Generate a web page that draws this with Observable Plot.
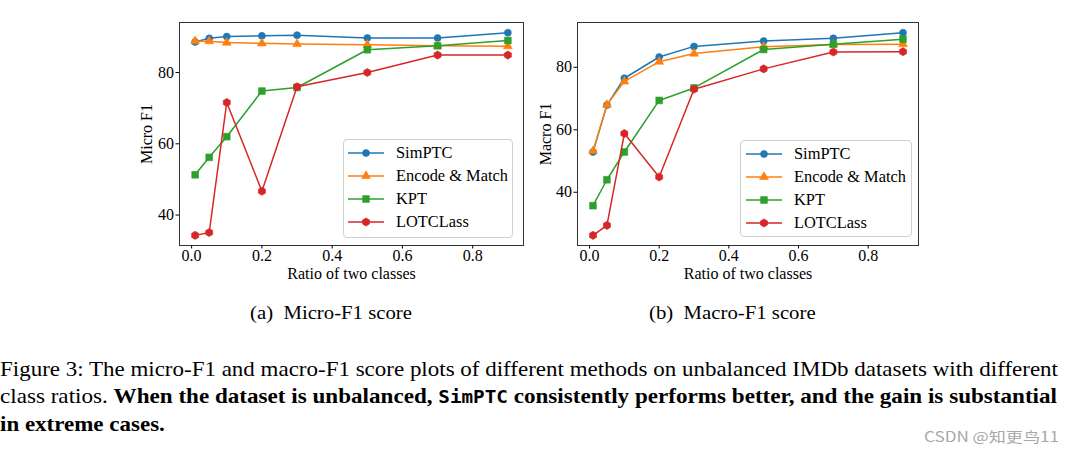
<!DOCTYPE html>
<html><head><meta charset="utf-8">
<script src="https://cdn.jsdelivr.net/npm/d3@7"></script>
<script src="https://cdn.jsdelivr.net/npm/@observablehq/plot@0.6"></script>
<style>
html,body{margin:0;padding:0;background:#fff;}
#root{position:relative;width:1075px;height:452px;overflow:hidden;font-family:"Liberation Serif","Times New Roman",serif;color:#000;}
.chart{position:absolute;top:0;}
.legend{position:absolute;border:1px solid #cfcfcf;border-radius:4px;background:rgba(255,255,255,0.8);box-sizing:border-box;font-size:16.4px;}
.entry{position:absolute;left:0;height:20px;line-height:20px;white-space:nowrap;}
.entry svg{position:absolute;top:0;}
.entry span{position:absolute;top:0;}
.sub{position:absolute;font-size:18px;line-height:18px;white-space:pre;transform-origin:0 0;}
.cap{position:absolute;left:0;font-size:21px;line-height:21px;white-space:pre;transform-origin:0 0;}
.tt{font-family:"DejaVu Sans Mono",monospace;font-size:17.5px;}
.wm{position:absolute;font-family:"Noto Sans CJK SC",sans-serif;font-size:14px;line-height:14px;color:#a8a8a8;white-space:pre;transform-origin:0 0;}
</style></head><body><div id="root"></div>
<script>
// ---- data ----
const ratios = [0.01, 0.05, 0.1, 0.2, 0.3, 0.5, 0.7, 0.9];
const methods = ["SimPTC", "Encode & Match", "KPT", "LOTCLass"];
const microSimPTC = [88.6, 89.6, 90.1, 90.3, 90.5, 89.7, 89.7, 91.2];
const microEncode = [88.8, 88.8, 88.4, 88.2, 88.0, 87.8, 87.5, 87.4];
const microKPT    = [51.3, 56.2, 62.0, 74.8, 75.8, 86.4, 87.5, 89.0];
const microLOT    = [34.3, 35.1, 71.6, 46.7, 76.0, 80.0, 84.9, 84.9];
const macroSimPTC = [52.9, 67.9, 76.5, 83.3, 86.7, 88.4, 89.3, 91.1];
const macroEncode = [53.2, 68.0, 75.5, 81.8, 84.4, 86.6, 87.3, 87.4];
const macroKPT    = [35.7, 44.0, 52.9, 69.4, 73.4, 85.7, 87.4, 89.0];
const macroLOT    = [26.2, 29.4, 58.8, 44.9, 73.0, 79.5, 84.9, 85.0];
const xTicks = [0, 0.2, 0.4, 0.6, 0.8];
const yTicks = [40, 60, 80];
const xLabel = "Ratio of two classes";
const subA = "(a)  Micro-F1 score";
const subB = "(b)  Macro-F1 score";

// ---- style ----
const colors = ["#1f77b4", "#ff7f0e", "#2ca02c", "#d62728"];
const hexagon = {draw(ctx, size) {
  const R = Math.sqrt(size / (1.5 * Math.sqrt(3)));
  for (let i = 0; i < 6; i++) {
    const a = -Math.PI / 2 + i * Math.PI / 3;
    const x = R * Math.cos(a), y = R * Math.sin(a);
    i ? ctx.lineTo(x, y) : ctx.moveTo(x, y);
  }
  ctx.closePath();
}};
const symbols = [d3.symbolCircle, d3.symbolTriangle, d3.symbolSquare, hexagon];
const radii = [3.5, 3.3, 3.8, 3.7];

function pad(vals, f = 0.05) {
  const [a, b] = d3.extent(vals); const m = (b - a) * f; return [a - m, b + m];
}

function makeChart(series, ylabel, o) {
  const marks = [Plot.frame({stroke: "#333", strokeWidth: 1})];
  series.forEach((vals, i) => {
    marks.push(Plot.line(ratios, {x: ratios, y: vals, stroke: colors[i], strokeWidth: 1.5}));
    marks.push(Plot.dot(ratios, {x: ratios, y: vals, fill: colors[i], stroke: colors[i], strokeWidth: 0.6, symbol: symbols[i], r: radii[i]}));
  });
  marks.push(Plot.axisX({ticks: xTicks, tickFormat: d3.format(".1f"), tickSize: 3.5, tickPadding: 1,
    label: xLabel, labelAnchor: "center", labelOffset: 33, labelArrow: "none"}));
  marks.push(Plot.axisY({ticks: yTicks, tickSize: 3.5, tickPadding: 2,
    label: ylabel, labelAnchor: "center", labelOffset: o.yLabelOffset, labelArrow: "none"}));
  return Plot.plot({
    width: 400, height: 285,
    marginLeft: o.ml, marginRight: o.mr, marginTop: 22, marginBottom: 40,
    x: {domain: pad(ratios)},
    y: {domain: pad(series.flat())},
    style: {fontFamily: "Liberation Serif", fontSize: "16px", color: "#000", background: "transparent", overflow: "visible"},
    marks
  });
}

const root = document.getElementById("root");
function place(el, left) { const d = document.createElement("div"); d.className = "chart"; d.style.left = left + "px"; d.appendChild(el); root.appendChild(d); }

place(makeChart([microSimPTC, microEncode, microKPT, microLOT], "Micro F1", {ml: 49, mr: 7, yLabelOffset: 39}), 130);
place(makeChart([macroSimPTC, macroEncode, macroKPT, macroLOT], "Macro F1", {ml: 47, mr: 12, yLabelOffset: 38}), 530);

function legend(left, top, w, h, sx, tx) {
  const box = document.createElement("div");
  box.className = "legend";
  Object.assign(box.style, {left: left + "px", top: top + "px", width: w + "px", height: h + "px"});
  methods.forEach((m, i) => {
    const e = document.createElement("div");
    e.className = "entry";
    e.style.top = (2.5 + i * 23.1) + "px";
    const r = radii[i];
    const path = d3.symbol(symbols[i], Math.PI * r * r)();
    e.innerHTML = `<svg width="40" height="20" style="left:${sx}px"><line x1="0" x2="36" y1="10" y2="10" stroke="${colors[i]}" stroke-width="1.5"/><path d="${path}" transform="translate(18,10)" fill="${colors[i]}" stroke="${colors[i]}" stroke-width="0.6"/></svg><span style="left:${tx}px"></span>`;
    e.querySelector("span").textContent = m;
    box.appendChild(e);
  });
  root.appendChild(box);
}
legend(343, 139, 170, 99, 4, 52);
legend(740, 140, 172, 97, 5, 53);

function textDiv(cls, left, top, html) {
  const d = document.createElement("div"); d.className = cls;
  d.style.left = left + "px"; d.style.top = top + "px"; d.innerHTML = html; root.appendChild(d); return d;
}
const l1 = textDiv("cap", 0, 359, "Figure 3: The micro-F1 and macro-F1 score plots of different methods on unbalanced IMDb datasets with different");
const l2 = textDiv("cap", 0, 386, 'class ratios. <b>When the dataset is unbalanced, <span class="tt">SimPTC</span> consistently performs better, and the gain is substantial</b>');
const l3 = textDiv("cap", 0, 414, "<b>in extreme cases.</b>");
const sA = textDiv("sub", 250, 304, "");
sA.textContent = subA;
const sB = textDiv("sub", 649, 304, "");
sB.textContent = subB;
const wm = textDiv("wm", 924, 429, "");
wm.textContent = "CSDN @知更鸟11";

const s1 = 1058 / l1.getBoundingClientRect().width;
l1.style.transform = `scaleX(${s1})`;
l2.style.transform = `scaleX(${1057 / l2.getBoundingClientRect().width})`;
l3.style.transform = `scaleX(${s1})`;
const sa = 162 / sA.getBoundingClientRect().width;
sA.style.transform = `scaleX(${sa})`;
sB.style.transform = `scaleX(${sa})`;
wm.style.transform = `scaleX(${135 / wm.getBoundingClientRect().width})`;
</script></body></html>
